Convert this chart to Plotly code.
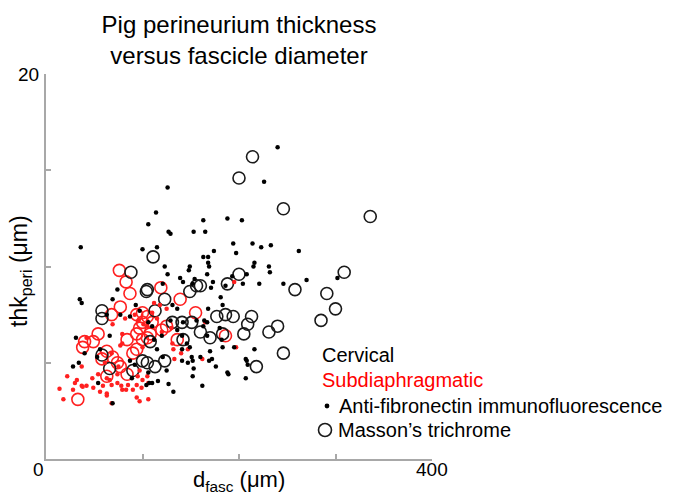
import plotly.graph_objects as go

# ---- data ----
# Cervical, anti-fibronectin immunofluorescence (black dots)
cerv_if_d = [240, 226, 163, 188, 203, 165, 194, 214, 223, 233, 197, 174, 163, 168, 262, 168, 169, 216, 215, 231,
             232, 167, 193, 208, 204, 221, 246, 270, 302, 173, 171, 181, 183, 168, 164, 167, 170, 183, 195, 216,
             207, 172, 176, 209, 207, 126, 114, 106, 127, 129, 153, 36, 100, 115, 123, 149, 154, 152, 186, 35,
             37, 74, 77, 63, 31, 40, 28, 34, 56, 53, 54, 69, 132, 162, 189, 160, 151, 141, 149, 127,
             116, 107, 104, 89, 115, 121, 87, 92, 112, 120, 110, 106, 97, 87, 93, 129, 136, 141, 142, 156,
             163, 167, 180, 182, 146, 121, 152, 188, 147, 153, 169, 110, 106, 125, 66, 69, 148, 126, 139, 142,
             131, 136, 152, 141, 208]
cerv_if_t = [16.2, 14.4, 12.4, 12.5, 12.4, 11.8, 11.2, 11.2, 11.0, 11.1, 10.7, 10.8, 10.5, 10.5, 10.8, 10.2, 10.0, 10.2, 10.0, 10.0,
             9.7, 9.6, 9.5, 9.6, 9.1, 9.1, 9.1, 9.3, 9.4, 9.2, 8.9, 8.4, 8.0, 7.8, 7.2, 7.1, 5.6, 5.8, 5.8, 5.7,
             5.2, 5.2, 4.8, 4.9, 4.2, 14.1, 12.8, 12.2, 11.8, 11.7, 11.8, 11.0, 10.9, 11.0, 10.0, 10.0, 9.35, 9.1, 9.0, 8.3,
             8.1, 8.8, 7.5, 7.5, 6.3, 5.5, 4.8, 5.0, 5.7, 5.3, 3.95, 2.9, 3.5, 3.8, 4.4, 5.3, 5.3, 5.7, 5.8, 3.9,
             4.05, 3.95, 3.85, 4.2, 5.7, 5.3, 5.1, 4.9, 6.2, 6.4, 6.9, 7.1, 7.7, 7.4, 8.0, 7.2, 6.7, 6.4, 7.1, 7.2,
             6.9, 6.4, 6.8, 6.2, 6.0, 9.1, 4.3, 4.5, 5.0, 4.7, 5.1, 3.95, 4.5, 4.6, 6.4, 8.3, 9.8, 9.6, 9.4, 9.2,
             8.0, 7.8, 5.1, 5.1, 5.1]

# Subdiaphragmatic, anti-fibronectin immunofluorescence (red dots)
sub_if_d = [69, 82, 79, 77, 42, 22, 32, 30, 37, 42, 48, 49, 56, 66, 68, 74, 79, 85, 90, 94,
            99, 100, 105, 14, 18, 28, 68, 97, 74, 97, 54, 63, 83, 94, 38, 59, 63, 78, 95, 106,
            63, 106, 37, 75, 61, 68, 79, 100, 132, 140, 162, 133, 131, 92, 195, 197, 165, 147, 110, 115,
            120, 125, 105, 118, 130, 101, 96, 112]
sub_if_t = [7.0, 7.3, 6.5, 5.9, 6.3, 4.3, 4.1, 3.95, 3.8, 3.8, 4.2, 3.7, 3.5, 4.1, 3.85, 3.95, 3.6, 3.85, 3.6, 3.85,
            3.7, 4.1, 4.3, 3.65, 3.1, 3.6, 2.9, 3.0, 4.4, 4.6, 4.4, 3.4, 3.6, 3.2, 3.75, 3.8, 4.2, 3.8, 4.3, 3.95,
            3.3, 3.1, 4.8, 4.8, 5.0, 5.5, 6.0, 5.8, 5.7, 5.5, 5.2, 5.2, 6.0, 7.5, 9.2, 5.8, 7.1, 5.7, 7.6, 7.3,
            6.6, 7.8, 6.9, 8.0, 6.8, 7.0, 7.2, 8.1]

# Cervical, Masson's trichrome (black open circles)
cerv_mt_d = [214, 200, 246, 336, 309, 200, 258, 291, 300, 285, 188, 160, 213, 209, 205, 231, 240, 246, 218, 88,
             111, 156, 149, 123, 105, 113, 177, 186, 194, 151, 141, 131, 160, 183, 170, 142, 123, 100, 113, 108,
             58, 66, 58, 90, 105, 104, 58]
cerv_mt_t = [15.7, 14.6, 13.0, 12.6, 9.7, 9.6, 8.8, 8.6, 7.8, 7.2, 9.1, 9.0, 7.4, 7.0, 6.5, 6.6, 6.9, 5.5, 4.8, 9.7,
             10.5, 9.0, 8.7, 8.3, 8.8, 7.7, 7.4, 7.5, 7.4, 7.1, 7.1, 7.1, 6.6, 6.5, 6.3, 6.2, 5.1, 5.1, 4.8, 6.1,
             7.7, 4.7, 5.4, 4.6, 5.0, 8.7, 7.3]

# Subdiaphragmatic, Masson's trichrome (red open circles)
sub_mt_d = [76, 83, 87, 77, 68, 94, 100, 105, 54, 40, 49, 38, 63, 58, 77, 63, 84, 90, 97, 94,
            100, 108, 100, 33, 74, 119, 139, 155, 186, 105, 120, 125, 110, 84, 69, 94, 136]
sub_mt_t = [9.8, 9.2, 8.6, 7.9, 7.5, 7.5, 7.6, 7.4, 6.5, 6.1, 6.1, 5.8, 5.6, 5.2, 4.8, 4.3, 4.4, 5.5, 6.8, 6.5,
            6.2, 6.5, 7.1, 3.1, 5.0, 8.9, 8.3, 7.6, 6.4, 6.3, 6.7, 6.9, 7.1, 6.2, 5.3, 5.7, 6.2]

x_tick_vals = [0, 100, 200, 300, 400]
y_tick_vals = [0, 5, 10, 15, 20]
x_tick_labels = ["0", "400"]
y_tick_labels = ["20"]

BLACK = "#1a1a1a"
RED = "#ff2020"
AXIS = "#a8a8a8"
FONT = "Liberation Sans, Arial, sans-serif"

fig = go.Figure()
fig.add_trace(go.Scatter(x=sub_mt_d, y=sub_mt_t, mode="markers",
                         marker=dict(symbol="circle-open", size=12, color=RED, line=dict(width=1.6, color=RED))))
fig.add_trace(go.Scatter(x=cerv_mt_d, y=cerv_mt_t, mode="markers",
                         marker=dict(symbol="circle-open", size=12, color=BLACK, line=dict(width=1.6, color=BLACK))))
fig.add_trace(go.Scatter(x=sub_if_d, y=sub_if_t, mode="markers",
                         marker=dict(symbol="circle", size=4.5, color=RED, line=dict(width=0))))
fig.add_trace(go.Scatter(x=cerv_if_d, y=cerv_if_t, mode="markers",
                         marker=dict(symbol="circle", size=4.5, color="#000000", line=dict(width=0))))

W, H = 673, 495
L, R, T, B = 46, 432, 74, 459


def px(xp):
    return (xp - L) / (R - L)


def py(yp):
    return (B - yp) / (B - T)


LEG = 20
annotations = [
    dict(text="Cervical", x=px(320), y=py(355), font=dict(size=LEG, color="#000000")),
    dict(text="Subdiaphragmatic", x=px(320), y=py(380), font=dict(size=LEG, color="#ff0000")),
    dict(text="Anti-fibronectin immunofluorescence", x=px(337), y=py(406), font=dict(size=LEG, color="#000000")),
    dict(text="Masson’s trichrome", x=px(336), y=py(430), font=dict(size=LEG, color="#000000")),
]
for a in annotations:
    a.update(xref="paper", yref="paper", xanchor="left", yanchor="middle", showarrow=False)

annotations += [
    # tick labels
    dict(text=x_tick_labels[0], x=px(38), y=py(470), xref="paper", yref="paper", xanchor="center",
         yanchor="middle", showarrow=False, font=dict(size=19, color="#000000")),
    dict(text=x_tick_labels[1], x=1.0, y=py(470), xref="paper", yref="paper", xanchor="center",
         yanchor="middle", showarrow=False, font=dict(size=19, color="#000000")),
    dict(text=y_tick_labels[0], x=px(41), y=1.0, xref="paper", yref="paper", xanchor="right",
         yanchor="middle", showarrow=False, font=dict(size=19, color="#000000")),
    # axis titles
    dict(text="d<sub>fasc</sub> (μm)", x=px(239), y=py(481), xref="paper", yref="paper", xanchor="center",
         yanchor="middle", showarrow=False, font=dict(size=22, color="#000000")),
    dict(text="thk<sub>peri</sub> (μm)", x=px(20), y=py(271), xref="paper", yref="paper", xanchor="center",
         yanchor="middle", showarrow=False, textangle=-90, font=dict(size=23, color="#000000")),
]

shapes = [
    dict(type="circle", xref="paper", yref="paper", xsizemode="pixel", ysizemode="pixel",
         xanchor=px(327), yanchor=py(406), x0=-2.4, x1=2.4, y0=-2.4, y1=2.4,
         fillcolor="#000000", line=dict(width=0)),
    dict(type="circle", xref="paper", yref="paper", xsizemode="pixel", ysizemode="pixel",
         xanchor=px(325), yanchor=py(430), x0=-6.5, x1=6.5, y0=-6.5, y1=6.5,
         fillcolor="rgba(0,0,0,0)", line=dict(width=1.6, color=BLACK)),
]

fig.update_layout(
    width=W, height=H,
    margin=dict(l=L, r=W - R, t=T, b=H - B, pad=0),
    paper_bgcolor="white", plot_bgcolor="white",
    showlegend=False,
    font=dict(family=FONT, size=18, color="#000000"),
    title=dict(text="Pig perineurium thickness<br>versus fascicle diameter", x=px(239), xref="paper",
               xanchor="center", y=1 - 33 / H, yref="container", yanchor="middle",
               font=dict(size=24, color="#000000", family=FONT)),
    annotations=annotations,
    shapes=shapes,
    xaxis=dict(range=[0, 400], showgrid=False, zeroline=False, showline=True, linecolor=AXIS, linewidth=2,
               ticks="inside", ticklen=5, tickwidth=1.5, tickcolor=AXIS, automargin=False,
               tickmode="array", tickvals=x_tick_vals, showticklabels=False),
    yaxis=dict(range=[0, 20], showgrid=False, zeroline=False, showline=True, linecolor=AXIS, linewidth=2,
               ticks="inside", ticklen=5, tickwidth=1.5, tickcolor=AXIS, automargin=False,
               tickmode="array", tickvals=y_tick_vals, showticklabels=False),
)

fig.write_html("out.html", config={"displayModeBar": False},
               post_script="document.body.style.margin='0px';")
